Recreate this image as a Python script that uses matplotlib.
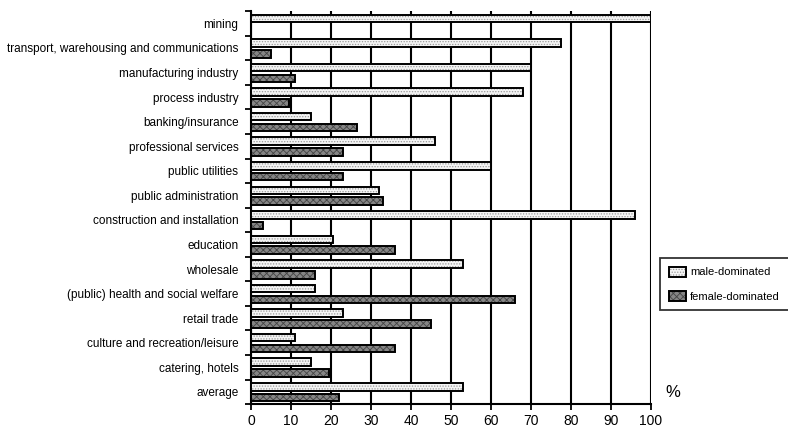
import matplotlib.pyplot as plt
import numpy as np

plt.rcParams['font.family'] = ['Liberation Sans', 'DejaVu Sans']
plt.rcParams['hatch.linewidth'] = 0.6

sectors = ["mining", "transport, warehousing and communications", "manufacturing industry",
           "process industry", "banking/insurance", "professional services", "public utilities",
           "public administration", "construction and installation", "education", "wholesale",
           "(public) health and social welfare", "retail trade", "culture and recreation/leisure",
           "catering, hotels", "average"]
male = [100, 77.5, 70, 68, 15, 46, 60, 32, 96, 20.5, 53, 16, 23, 11, 15, 53]
female = [0, 5, 11, 9.5, 26.5, 23, 23, 33, 3, 36, 16, 66, 45, 36, 19.5, 22]

fig = plt.figure(figsize=(7.88, 4.29), dpi=100)
ax = fig.add_axes([0.3185, 0.058, 0.5075, 0.916])

y = np.arange(len(sectors))
h = 0.31
# texture layer, then black outline on top
m_fill = ax.barh(y - 0.205, male, height=h, color='#f4f4f4', edgecolor='#9a9a9a',
                 linewidth=0, hatch='......', zorder=3)
m_edge = ax.barh(y - 0.205, male, height=h, fill=False, edgecolor='black', linewidth=1.4, zorder=4)
f_fill = ax.barh(y + 0.235, female, height=h, color='#858585', edgecolor='#444444',
                 linewidth=0, hatch='xxxxx', zorder=3)
f_edge = ax.barh(y + 0.235, female, height=h, fill=False, edgecolor='black', linewidth=1.4, zorder=4)

ax.set_xlim(0, 100)
ax.set_ylim(len(sectors) - 0.5, -0.5)
ax.set_xticks(np.arange(0, 101, 10))
ax.set_yticks(y)
ax.set_yticklabels(sectors, fontsize=8.5)
ax.set_yticks(np.arange(-0.5, len(sectors), 1), minor=True)
ax.tick_params(axis='y', which='major', length=0, pad=9)
ax.tick_params(axis='y', which='minor', length=4, width=1.3, direction='out')
ax.tick_params(axis='x', length=4, width=1.3, direction='out', labelsize=10, pad=3)

ax.grid(axis='x', color='black', linewidth=1.5, zorder=1)
for s in ['top', 'right']:
    ax.spines[s].set_visible(False)
for s in ['left', 'bottom']:
    ax.spines[s].set_linewidth(1.5)

fig.text(0.854, 0.084, '%', fontsize=12, ha='center', va='center')

leg = fig.legend([(m_fill[0], m_edge[0]), (f_fill[0], f_edge[0])],
                 ['male-dominated', 'female-dominated'],
                 loc='upper left', bbox_to_anchor=(0.8376, 0.399), borderaxespad=0,
                 fontsize=8, frameon=True, fancybox=False, edgecolor='black', borderpad=0.8,
                 handlelength=1.5, handleheight=1.0, handletextpad=0.4, labelspacing=1.2)
leg.get_frame().set_linewidth(1.3)

fig.savefig('out.png', dpi=100)
